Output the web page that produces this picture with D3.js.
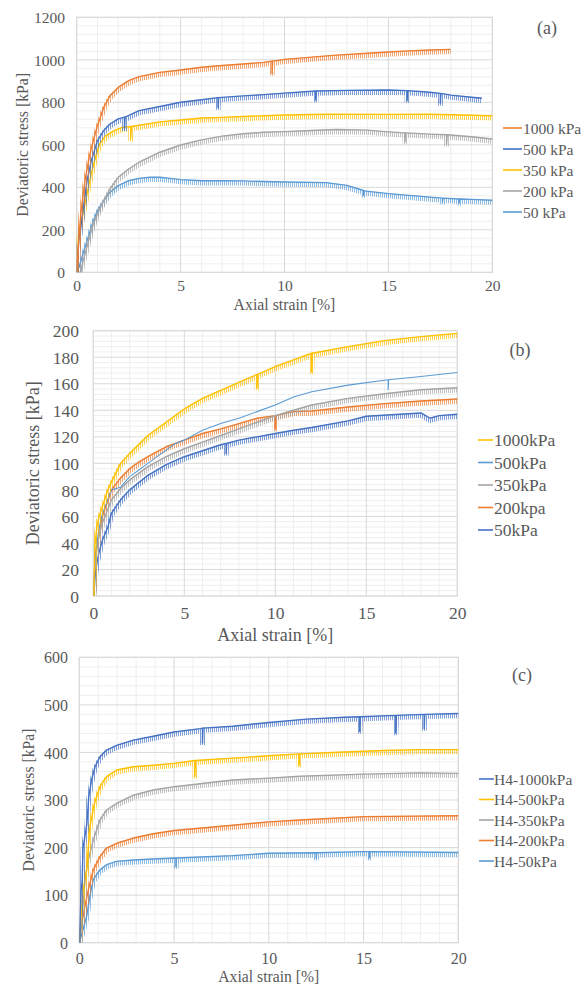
<!DOCTYPE html>
<html>
<head>
<meta charset="utf-8">
<script src="https://cdn.jsdelivr.net/npm/d3@7"></script>
<style>
  html, body { margin: 0; padding: 0; background: #fff; }
  svg { display: block; }
</style>
</head>
<body>
<svg id="fig" width="588" height="986" font-family="Liberation Serif" fill="#595959"></svg>
<script>
// ---------- data: axial strain [%] vs deviatoric stress [kPa] ----------

// Panel (a)
const aLabels = ["1000 kPa", "500 kPa", "350 kPa", "200 kPa", "50 kPa"];
const aColors = ["#ED7D31", "#4472C4", "#FFC000", "#A5A5A5", "#5B9BD5"];
const a1000 = [[0,0],[0.1,150],[0.2,280],[0.4,431],[0.6,541],[0.8,620],[1.0,690],[1.3,776],[1.6,831],[2.0,870],[2.5,902],[3,921],[4,941],[5,952],[6,965],[7,973],[8,980],[9,988],[9.4,994],[9.4,936],[9.43,994],[10,1002],[11,1010],[12.5,1022],[14,1031],[15,1037],[16,1042],[17,1046],[18,1049]];
const a500 = [[0,0],[0.1,150],[0.2,212],[0.3,290],[0.5,431],[0.7,525],[0.9,588],[1.0,620],[1.3,667],[1.6,698],[2.0,722],[2.3,730],[2.3,675],[2.33,730],[3,761],[4,780],[5,800],[6,812],[6.8,822],[6.8,775],[6.83,822],[8,830],[9,836],[10,843],[11.5,853],[11.5,811],[11.53,853],[13,856],[15,858],[15.9,855],[15.9,808],[15.93,855],[17,847],[17.5,842],[17.5,795],[17.53,842],[18,834],[19,824],[19.5,819]];
const a350 = [[0,0],[0.05,100],[0.1,196],[0.3,275],[0.5,369],[0.7,463],[0.9,541],[1.1,604],[1.4,643],[1.8,667],[2.2,682],[2.6,686],[2.6,627],[2.63,686],[3,692],[4,708],[5,717],[6,726],[7,729],[8,733],[9,737],[10,740],[12,744],[15,743],[17,744],[20,737]];
const a200 = [[0,0],[0.2,0],[0.25,30],[0.4,86],[0.6,157],[0.8,227],[1.0,275],[1.3,337],[1.6,392],[2,447],[2.5,486],[3,518],[4,565],[5,599],[6,623],[7,641],[8,652],[9,659],[10,662],[11,666],[12.5,672],[14,669],[15,661],[15.8,656],[15.8,614],[15.83,656],[17,650],[17.8,647],[17.8,603],[17.83,647],[19,638],[20,627]];
const a50 = [[0,0],[0.1,20],[0.3,86],[0.5,149],[0.8,243],[1.0,290],[1.3,337],[1.6,376],[2,408],[2.5,431],[3,442],[3.5,447],[4,447],[4.5,442],[5,436],[6,431],[7,431],[8,430],[9,427],[10,425],[12,422],[13,409],[13.8,385],[13.8,362],[13.83,383],[15,370],[16,362],[17,354],[17.6,349],[17.6,331],[17.63,349],[18.4,345],[18.4,326],[18.43,345],[19,343],[20,339]];
const aSeries = [a1000, a500, a350, a200, a50];

// Panel (b)
const bLabels = ["1000kPa", "500kPa", "350kPa", "200kpa", "50kPa"];
const bColors = ["#FFC000", "#5B9BD5", "#A5A5A5", "#ED7D31", "#4472C4"];
const b1000 = [[0,0],[0.05,20],[0.1,40],[0.2,52],[0.3,59],[0.5,67.5],[0.8,80],[1.0,86],[1.5,100],[2,107.5],[3,121],[4,131],[5,141],[6,149],[7,155],[8,161],[9,167],[9,157],[9.03,167],[10,173],[11,178],[12,183],[12,169],[12.03,183],[14,188],[16,192.5],[18,195.5],[20,198]];
const b500 = [[0,0],[0.1,30],[0.3,50],[0.5,62],[1.0,80],[1.5,82],[2,90],[2.5,95],[3,100],[4,110],[4.5,115],[5,117.5],[6,125],[7,130],[8,134],[9,139],[10,144],[11,150],[12,154],[14,159],[16.2,163],[16.2,155.5],[16.23,163],[18,165.5],[20,168.5]];
const b350 = [[0,0],[0.1,25],[0.3,45],[0.5,55],[1,72.5],[1.5,81],[2,87.5],[3,97.5],[4,105],[5,111],[6,116],[7,121],[8,126],[9,131],[10,136],[11,140],[12,144],[14,149],[16,152.5],[18,155.5],[20,157]];
const b200 = [[0,0],[0.05,10],[0.1,30],[0.3,45],[0.5,60],[1,80],[1.5,89],[2,96],[2.5,101],[3,105],[4,112.5],[5,117.5],[6,122.5],[7,126],[8,130],[9,134],[10,136],[10,126],[10.03,136],[11,139],[12,139.5],[14,142.5],[16,145],[18,147],[20,148.5]];
const b50 = [[0,0],[0.05,5],[0.1,15],[0.2,25],[0.3,32],[0.5,42],[0.8,52],[1,62.5],[1.5,72.5],[2,80],[3,91],[4,99],[5,105],[6,109.5],[7,114],[7.3,115],[7.3,107.5],[7.33,115],[8,117.5],[9,120],[10,122.5],[11,125],[12,127],[14,132],[15,135.5],[18,138],[18.5,134],[19,136],[20,137]];
const bSeries = [b1000, b500, b350, b200, b50];

// Panel (c)
const cLabels = ["H4-1000kPa", "H4-500kPa", "H4-350kPa", "H4-200kPa", "H4-50kPa"];
const cColors = ["#4472C4", "#FFC000", "#A5A5A5", "#ED7D31", "#5B9BD5"];
const c1000 = [[0,0],[0.05,60],[0.1,112],[0.15,130],[0.2,200],[0.4,250],[0.5,307],[0.65,342],[0.83,370],[1.09,391],[1.44,405],[1.97,415],[2.85,426],[3.9,434],[5,443],[6.4,450],[6.5,451],[6.5,420],[6.53,451],[8.1,455],[10,463],[12,470],[14,474],[14.8,475],[14.8,444],[14.83,475],[16.7,478],[16.7,441],[16.73,478],[18.2,480],[18.2,450],[18.23,480],[20,482]];
const c500 = [[0,0],[0.05,30],[0.1,60],[0.2,110],[0.39,154],[0.56,244],[0.8,293],[1.09,328],[1.44,349],[1.97,363],[2.85,370],[3.9,373],[5,377],[6.1,383],[6.1,350],[6.13,383],[8.1,388],[10,393],[11.6,397],[11.6,373],[11.63,397],[14,401],[16,404],[18,406],[20,406]];
const c350 = [[0,0],[0.1,30],[0.2,80],[0.3,130],[0.45,170],[0.74,216],[1.09,258],[1.44,279],[1.97,293],[2.85,310],[3.9,321],[5,328],[8.1,342],[10,346],[11.65,350],[15,354.5],[18,357],[20,356]];
const c200 = [[0,0],[0.1,35],[0.3,77],[0.48,112],[0.74,153],[1.09,181],[1.44,199],[1.97,209],[2.85,220],[3.9,229],[5,236],[8.1,247],[10,254],[11.65,258],[15,265],[20,267]];
const c50 = [[0,0],[0.1,14],[0.39,56],[0.56,98],[0.74,133],[1.09,153],[1.44,164],[1.97,171],[2.85,174],[3.9,176],[5.1,178],[5.1,160],[5.13,178],[8.1,183],[10,188],[12.5,189],[12.5,178],[12.53,189],[15,191.5],[15.3,191.5],[15.3,178],[15.33,191.5],[20,189.5]];
const cSeries = [c1000, c500, c350, c200, c50];

// Tick labels
const xTicks = [0, 5, 10, 15, 20];
const aYTicks = [0, 200, 400, 600, 800, 1000, 1200];
const bYTicks = [0, 20, 40, 60, 80, 100, 120, 140, 160, 180, 200];
const cYTicks = [0, 100, 200, 300, 400, 500, 600];

// ---------- layout ----------
const FONT = "Liberation Serif";
const TXT = "#595959";
const panels = [
  { series: aSeries, labels: aLabels, colors: aColors, yTicks: aYTicks, yMinorStep: 40, tag: "(a)",
    box: { l: 76.7, t: 17.3, r: 492.3, b: 272.3 }, tickFs: 15.5, titleFs: 15.8, legendFs: 15.5,
    yLabelX: 65, xLabelY: 291, xTitleY: 310, yTitleX: 22.5,
    legend: { x1: 503, x2: 522, tx: 523, y0: 128, dy: 21 }, tagPos: [547, 28], smooth: [] },
  { series: bSeries, labels: bLabels, colors: bColors, yTicks: bYTicks, yMinorStep: 4, tag: "(b)",
    box: { l: 93.3, t: 330.7, r: 457.3, b: 596 }, tickFs: 17.5, titleFs: 18, legendFs: 17.5,
    yLabelX: 79, xLabelY: 619, xTitleY: 641, yTitleX: 33,
    legend: { x1: 478, x2: 493, tx: 494, y0: 440, dy: 22.5 }, tagPos: [520, 350], smooth: [1] },
  { series: cSeries, labels: cLabels, colors: cColors, yTicks: cYTicks, yMinorStep: 20, tag: "(c)",
    box: { l: 79.3, t: 657.3, r: 458.3, b: 942.7 }, tickFs: 16, titleFs: 15.7, legendFs: 15.5,
    yLabelX: 68, xLabelY: 964, xTitleY: 982, yTitleX: 28,
    legend: { x1: 479, x2: 494, tx: 494, y0: 779, dy: 20.5 }, tagPos: [522, 675], smooth: [] }
];

const svg = d3.select("#fig");
const defs = svg.append("defs");

// fine vertical hatching that renders the dense unloading spikes hanging below each record
const allColors = Array.from(new Set([...aColors, ...bColors, ...cColors]));
allColors.forEach(c => {
  const p = defs.append("pattern")
    .attr("id", "hatch" + c.slice(1))
    .attr("patternUnits", "userSpaceOnUse")
    .attr("width", 2).attr("height", 10);
  p.append("rect").attr("x", 0).attr("y", 0).attr("width", 0.9).attr("height", 10).attr("fill", c);
});

function txt(sel, size) {
  return sel.attr("font-family", FONT).attr("font-size", size).attr("fill", TXT);
}

panels.forEach((P, pi) => {
  const { l, t, r, b } = P.box;
  const yMax = d3.max(P.yTicks);
  const x = d3.scaleLinear().domain([0, 20]).range([l, r]);
  const y = d3.scaleLinear().domain([0, yMax]).range([b, t]);
  const g = svg.append("g");

  // minor grid
  const xMinor = d3.range(1, 20, 1).filter(v => v % 5 !== 0);
  const yMinor = d3.range(P.yMinorStep, yMax, P.yMinorStep).filter(v => !P.yTicks.includes(v));
  g.append("g").selectAll("line").data(xMinor).join("line")
    .attr("x1", d => x(d)).attr("x2", d => x(d)).attr("y1", t).attr("y2", b)
    .attr("stroke", "#efefef").attr("stroke-width", 1);
  g.append("g").selectAll("line").data(yMinor).join("line")
    .attr("x1", l).attr("x2", r).attr("y1", d => y(d)).attr("y2", d => y(d))
    .attr("stroke", "#efefef").attr("stroke-width", 1);
  // major grid
  g.append("g").selectAll("line").data(xTicks).join("line")
    .attr("x1", d => x(d)).attr("x2", d => x(d)).attr("y1", t).attr("y2", b)
    .attr("stroke", "#d9d9d9").attr("stroke-width", 1);
  g.append("g").selectAll("line").data(P.yTicks).join("line")
    .attr("x1", l).attr("x2", r).attr("y1", d => y(d)).attr("y2", d => y(d))
    .attr("stroke", "#d9d9d9").attr("stroke-width", 1);
  g.append("rect").attr("x", l).attr("y", t).attr("width", r - l).attr("height", b - t)
    .attr("fill", "none").attr("stroke", "#d9d9d9");

  // tick labels via d3 axes
  const yAxis = g.append("g").attr("transform", `translate(${P.yLabelX},0)`)
    .call(d3.axisLeft(y).tickValues(P.yTicks).tickSize(0).tickPadding(0).tickFormat(d3.format("d")));
  yAxis.attr("font-family", FONT).attr("font-size", P.tickFs);
  yAxis.select(".domain").remove();
  yAxis.selectAll("text").attr("dy", "0.35em").attr("fill", TXT);

  const xAxis = g.append("g").attr("transform", `translate(0,${P.xLabelY})`)
    .call(d3.axisBottom(x).tickValues(xTicks).tickSize(0).tickPadding(0).tickFormat(d3.format("d")));
  xAxis.attr("font-family", FONT).attr("font-size", P.tickFs);
  xAxis.select(".domain").remove();
  xAxis.selectAll("text").attr("dy", 0).attr("fill", TXT);

  txt(g.append("text"), P.titleFs).attr("x", (l + r) / 2).attr("y", P.xTitleY)
    .attr("text-anchor", "middle").text("Axial strain [%]");
  txt(g.append("text"), P.titleFs).attr("transform", `translate(${P.yTitleX},${(t + b) / 2}) rotate(-90)`)
    .attr("text-anchor", "middle").attr("dominant-baseline", "central").text("Deviatoric stress [kPa]");

  // curves
  const line = d3.line().x(d => x(d[0])).y(d => y(d[1]));
  const clipId = "clip" + pi;
  defs.append("clipPath").attr("id", clipId).append("rect")
    .attr("x", l).attr("y", t - 2).attr("width", r - l + 2).attr("height", b - t + 2);
  const plot = g.append("g").attr("clip-path", `url(#${clipId})`);
  // the first legend entry is drawn last so it sits on top
  d3.range(P.series.length).reverse().forEach(i => {
    const data = P.series[i];
    const col = P.colors[i];
    const isSmooth = P.smooth.includes(i);
    if (!isSmooth) {
      plot.append("path").datum(data).attr("d", line).attr("fill", "none")
        .attr("stroke", `url(#hatch${col.slice(1)})`).attr("stroke-width", 5)
        .attr("transform", "translate(0,2.2)").attr("opacity", 0.75);
    }
    plot.append("path").datum(data).attr("d", line).attr("fill", "none")
      .attr("stroke", col).attr("stroke-width", isSmooth ? 1.1 : 1.4)
      .attr("stroke-linejoin", "round");
  });

  // legend
  const L = P.legend;
  const lg = g.append("g");
  P.labels.forEach((lab, i) => {
    const yy = L.y0 + i * L.dy;
    lg.append("line").attr("x1", L.x1).attr("x2", L.x2).attr("y1", yy).attr("y2", yy)
      .attr("stroke", P.colors[i]).attr("stroke-width", 1.6);
    txt(lg.append("text"), P.legendFs).attr("x", L.tx).attr("y", yy)
      .attr("dominant-baseline", "central").text(lab);
  });

  txt(g.append("text"), 18).attr("x", P.tagPos[0]).attr("y", P.tagPos[1])
    .attr("text-anchor", "middle").attr("dominant-baseline", "central").text(P.tag);
});
</script>
</body>
</html>
